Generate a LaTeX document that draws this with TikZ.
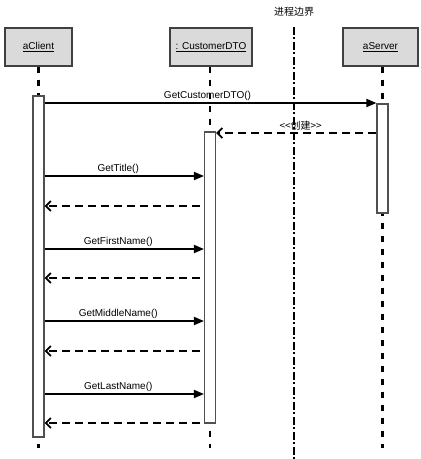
\documentclass[tikz,border=0pt]{standalone}
\usepackage{fontspec}
\setmainfont{Liberation Sans}
\newfontfamily\cjk{Noto Sans CJK SC}
\usetikzlibrary{arrows.meta}
\definecolor{boxfill}{HTML}{DADADA}
\definecolor{boxline}{HTML}{404040}
\definecolor{actline}{HTML}{505050}
\tikzset{
  actor/.style={draw=boxline, fill=boxfill, line width=1.3pt, minimum height=38pt, inner sep=0pt, font=\fontsize{10}{12}\selectfont},
  actbox/.style={draw=actline, fill=white, line width=1.1pt, minimum width=11pt, inner sep=0pt},
  lifeline/.style={line width=2.2pt, dash pattern=on 6pt off 7pt},
  boundary/.style={line width=2.2pt, dash pattern=on 8pt off 2pt on 2pt off 3pt},
  msg/.style={line width=1.8pt, -{Triangle[length=10pt,width=8pt]}},
  ret/.style={line width=1.8pt, dash pattern=on 8pt off 5pt, -{Straight Barb[length=5pt,width=10pt]}},
  lbl/.style={font=\fontsize{10}{12}\selectfont, inner sep=1.5pt},
}
\begin{document}
\begin{tikzpicture}[x=1pt,y=-1pt]
\useasboundingbox (0,0) rectangle (421,459);
% actors
\node[actor, minimum width=67pt] (client) at (38.5,47) {\underline{aClient}};
\node[actor, minimum width=82pt] (dto) at (211,47) {\underline{: CustomerDTO}};
\node[actor, minimum width=75pt] (server) at (380.5,47) {\underline{aServer}};
% boundary
\node[font=\cjk\fontsize{10}{12}\selectfont, inner sep=0pt] (blabel) at (294,12) {进程边界};
\coordinate (btop) at (294,27);
\coordinate (bbot) at (294,459);
\draw[boundary] (btop) -- (bbot);
% lifelines
\coordinate (cl) at (38.5,448);
\coordinate (dl) at (210,448);
\coordinate (sl) at (382.5,448);
\draw[lifeline] (client.south -| cl) -- (cl);
\draw[lifeline] (dto.south -| dl) -- (dl);
\draw[lifeline] (server.south -| sl) -- (sl);
% activations
\node[actbox, minimum height=341pt] (ca) at (38.5,266.5) {};
\node[actbox, minimum height=291pt] (da) at (210,277.5) {};
\node[actbox, minimum height=109pt] (sa) at (382.5,158.5) {};
% messages
\coordinate (y0) at (0,103);
\coordinate (y1) at (0,133);
\coordinate (y2) at (0,176);
\coordinate (y3) at (0,206);
\coordinate (y4) at (0,249);
\coordinate (y5) at (0,278);
\coordinate (y6) at (0,321);
\coordinate (y7) at (0,351);
\coordinate (y8) at (0,394);
\coordinate (y9) at (0,423);
\draw[msg] (ca.east |- y0) -- node[lbl, above, xshift=-3pt] {GetCustomerDTO()} (sa.west |- y0);
\draw[ret] (sa.west |- y1) -- node[lbl, above, xshift=-2pt, pos=0.46, font=\cjk\fontsize{10}{12}\selectfont] {<<创建>>} (da.east |- y1);
\draw[msg] (ca.east |- y2) -- node[lbl, above, xshift=-6pt] {GetTitle()} (da.west |- y2);
\draw[ret, shorten <=4pt] (da.west |- y3) -- (ca.east |- y3);
\draw[msg] (ca.east |- y4) -- node[lbl, above, xshift=-6pt] {GetFirstName()} (da.west |- y4);
\draw[ret, shorten <=4pt] (da.west |- y5) -- (ca.east |- y5);
\draw[msg] (ca.east |- y6) -- node[lbl, above, xshift=-6pt] {GetMiddleName()} (da.west |- y6);
\draw[ret, shorten <=4pt] (da.west |- y7) -- (ca.east |- y7);
\draw[msg] (ca.east |- y8) -- node[lbl, above, xshift=-6pt] {GetLastName()} (da.west |- y8);
\draw[ret, shorten <=4pt] (da.west |- y9) -- (ca.east |- y9);
\end{tikzpicture}
\end{document}
